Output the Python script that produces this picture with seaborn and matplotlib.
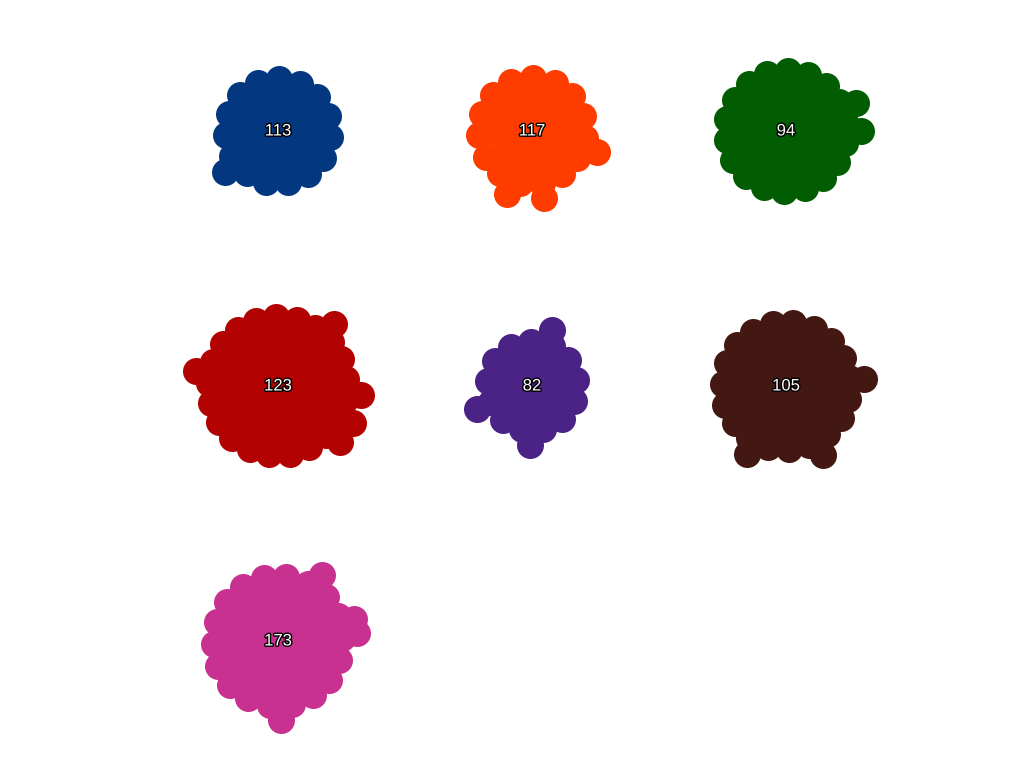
import numpy as np
import matplotlib
matplotlib.use("Agg")
import matplotlib.pyplot as plt
import matplotlib.patheffects as pe
import seaborn as sns

###############################################################################
# Data: one bubble cluster per group, label = group size

group_sizes = [113, 117, 94, 123, 82, 105, 173]
group_colors = ['#03377f', '#ff3c00', '#015c02', '#b20202',
                '#4b2286', '#441812', '#c8318f']
group_kinds = ['packed', 'packed', 'hub', 'hub', 'packed', 'hub', 'packed']

# a few loose bubbles sticking out of each cluster (angle in degrees, y down)
loose_angles = [[142], [18, 80, 112], [-22, 0], [-48, 6, 26, 42, 190],
                [-70, 92, 157], [-5, 62, 120], [-56, -16, -6, 88]]

###############################################################################
# Layout

x0, dx = 278, 254
y0, dy = 131, 255
r_small = 13.5
px_to_pt = 0.72


def marker_size(radius):
    return (2 * radius * px_to_pt) ** 2


sns.set_style("white")
plt.rcParams['font.family'] = ['Liberation Sans', 'DejaVu Sans']

fig = plt.figure(figsize=(10.24, 7.68), dpi=100)
ax = fig.add_axes([0, 0, 1, 1])
ax.set_xlim(0, 1024)
ax.set_ylim(768, 0)
ax.set_axis_off()

for i, (n, col, kind, loose) in enumerate(zip(group_sizes, group_colors,
                                               group_kinds, loose_angles)):
    cx = x0 + (i % 3) * dx
    cy = y0 + (i // 3) * dy
    xs, ys = [], []
    if kind == 'hub':
        r_out = 6.2 * np.sqrt(n)
        sns.scatterplot(x=[cx], y=[cy], color=col, s=marker_size(r_out - 5),
                        linewidth=0, ax=ax, legend=False)
        nb = int(round(2 * np.pi * r_out / 21))
        th = np.linspace(0, 2 * np.pi, nb, endpoint=False) + 0.2
        xs += list(cx + r_out * np.cos(th))
        ys += list(cy + r_out * np.sin(th))
    else:
        r_out = 4.9 * np.sqrt(n)
        n_rings = int(np.ceil(r_out / 19))
        for k, rk in enumerate(np.linspace(0, r_out, n_rings + 1)):
            nb = 1 if k == 0 else int(round(2 * np.pi * rk / 22))
            th = np.linspace(0, 2 * np.pi, nb, endpoint=False) + 0.6 * k
            xs += list(cx + rk * np.cos(th))
            ys += list(cy + rk * np.sin(th))
    th = np.radians(loose)
    xs += list(cx + (r_out + 15) * np.cos(th))
    ys += list(cy + (r_out + 15) * np.sin(th))
    sns.scatterplot(x=xs, y=ys, color=col, s=marker_size(r_small),
                    linewidth=0, ax=ax, legend=False)
    ax.text(cx, cy, str(n), ha='center', va='center', color='white',
            fontsize=12, zorder=5,
            path_effects=[pe.withStroke(linewidth=2, foreground='black')])

fig.savefig("out.png", dpi=100, facecolor='white')
